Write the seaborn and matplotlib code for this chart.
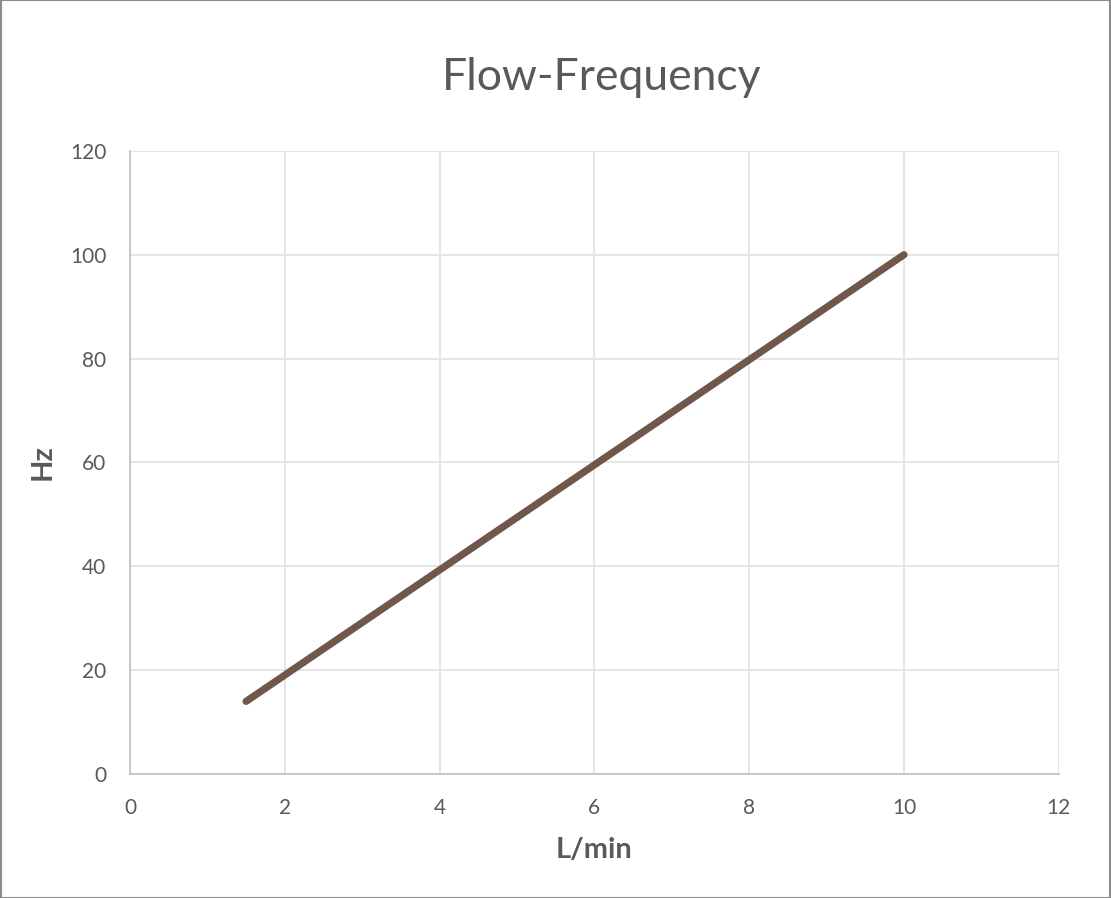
import pandas as pd
import seaborn as sns
import matplotlib.pyplot as plt

flow = [1.5, 10]
freq = [14, 100]
x_ticks = [0, 2, 4, 6, 8, 10, 12]
y_ticks = [0, 20, 40, 60, 80, 100, 120]

df = pd.DataFrame({"L/min": flow, "Hz": freq})

sns.set_style("white")
plt.rcParams['font.family'] = ['Lato', 'DejaVu Sans']

fig = plt.figure(figsize=(11.11, 8.98), dpi=100)
ax = fig.add_axes([0.117, 0.138, 0.836, 0.694])

sns.lineplot(x="L/min", y="Hz", data=df, ax=ax, color="#70574B", linewidth=5.2,
             solid_capstyle="round")

ax.set_xlim(0, 12)
ax.set_ylim(0, 120)
ax.set_xticks(x_ticks)
ax.set_yticks(y_ticks)
ax.grid(True, color="#E3E3E3", linewidth=1.3)
ax.set_axisbelow(True)
for s in ["top", "right"]:
    ax.spines[s].set_visible(False)
for s in ["left", "bottom"]:
    ax.spines[s].set_color("#C4C4C4")
    ax.spines[s].set_linewidth(1.3)
ax.tick_params(axis="both", length=0, labelsize=15, colors="#595959", pad=17)
ax.set_xlabel("L/min", fontsize=21, fontweight="bold", color="#595959", labelpad=14)
ax.set_ylabel("Hz", fontsize=21, fontweight="bold", color="#595959", labelpad=10)
fig.text(0.5414, 0.8998, "Flow-Frequency", fontsize=32, color="#595959", ha="center", va="baseline")

fig.patches.append(plt.Rectangle((0.0005, 0.0005), 0.999, 0.999, transform=fig.transFigure,
                                 fill=False, edgecolor="#8C8C8C", linewidth=1.5))

plt.savefig("out.png", dpi=100)
